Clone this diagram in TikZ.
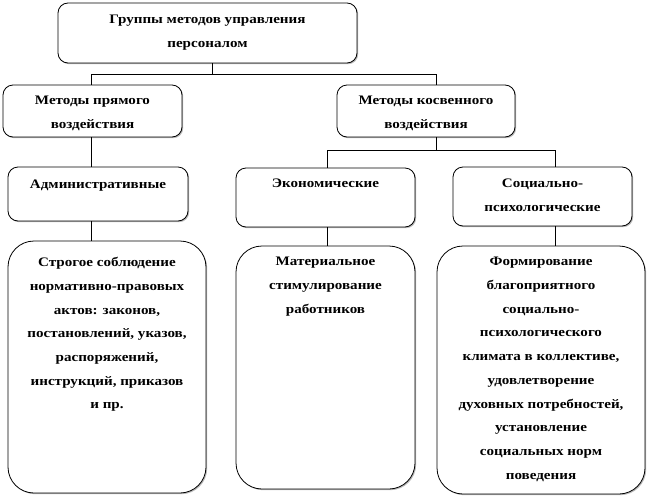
\documentclass[tikz,border=0pt]{standalone}
\usepackage{fontspec}
\setmainfont{Liberation Serif}[FakeStretch=1.16]
\usetikzlibrary{shadows}
\tikzset{
  box/.style={draw=black, line width=0.8pt, fill=white, rounded corners=10pt,
    drop shadow={shadow xshift=1.2pt, shadow yshift=-1.2pt, fill=gray!55, opacity=1}},
  bigbox/.style={box, rounded corners=26pt},
  txt/.style={align=center, inner sep=0pt, font=\bfseries\fontsize{13}{23.7}\selectfont},
  conn/.style={draw=black, line width=0.8pt}
}
\begin{document}
\begin{tikzpicture}[x=1pt,y=-1pt]
\useasboundingbox (0,0) rectangle (648,498);
% boxes
\node[box, minimum width=299pt, minimum height=60pt] (top) at (207.5,33) {};
\node[box, minimum width=179pt, minimum height=52pt] (pr) at (92.5,111) {};
\node[box, minimum width=178pt, minimum height=52pt] (ko) at (426,111) {};
\node[box, minimum width=180pt, minimum height=54pt] (adm) at (98,194) {};
\node[box, minimum width=179pt, minimum height=59pt] (eko) at (325.5,197.5) {};
\node[box, minimum width=179pt, minimum height=59pt] (soc) at (542.5,196.5) {};
\node[bigbox, minimum width=198pt, minimum height=252pt] (d1) at (107,367) {};
\node[bigbox, minimum width=179pt, minimum height=243pt] (d2) at (325.5,367.5) {};
\node[bigbox, minimum width=208pt, minimum height=248pt] (d3) at (541,370) {};
% texts
\node[txt, anchor=north] (topt) at ([yshift=-12.5pt]top.north) {Группы методов управления\\персоналом};
\node[txt, anchor=north] (prt) at ([yshift=-11.5pt]pr.north) {Методы прямого\\воздействия};
\node[txt, anchor=north] (kot) at ([yshift=-11.5pt]ko.north) {Методы косвенного\\воздействия};
\node[txt, anchor=north] (admt) at ([yshift=-13.5pt]adm.north) {Административные};
\node[txt, anchor=north] (ekot) at ([yshift=-11.5pt]eko.north) {Экономические};
\node[txt, anchor=north] (soct) at ([yshift=-12.5pt]soc.north) {Социально-\\психологические};
\node[txt, anchor=north] (d1t) at ([yshift=-16.5pt]d1.north) {Строгое соблюдение\\нормативно-правовых\\актов: законов,\\постановлений, указов,\\распоряжений,\\инструкций, приказов\\и пр.};
\node[txt, anchor=north] (d2t) at ([yshift=-11.5pt]d2.north) {Материальное\\стимулирование\\работников};
\node[txt, anchor=north] (d3t) at ([yshift=-11.5pt]d3.north) {Формирование\\благоприятного\\социально-\\психологического\\климата в коллективе,\\удовлетворение\\духовных потребностей,\\установление\\социальных норм\\поведения};
% connectors
\coordinate (j1) at (212,74);
\coordinate (j2) at (436,150);
\draw[conn] ([xshift=4.5pt]top.south) -- (j1);
\draw[conn] (j1) -| ([xshift=-1.5pt]pr.north);
\draw[conn] (j1) -| ([xshift=10pt]ko.north);
\draw[conn] ([xshift=-1.5pt]pr.south) -- ([xshift=-7pt]adm.north);
\draw[conn] ([xshift=10pt]ko.south) -- (j2);
\draw[conn] (j2) -| ([xshift=1.5pt]eko.north);
\draw[conn] (j2) -| ([xshift=12.5pt]soc.north);
\draw[conn] ([xshift=-7pt]adm.south) -- ([xshift=-16pt]d1.north);
\draw[conn] ([xshift=1.5pt]eko.south) -- ([xshift=1.5pt]d2.north);
\draw[conn] ([xshift=12.5pt]soc.south) -- ([xshift=14pt]d3.north);
\end{tikzpicture}
\end{document}
